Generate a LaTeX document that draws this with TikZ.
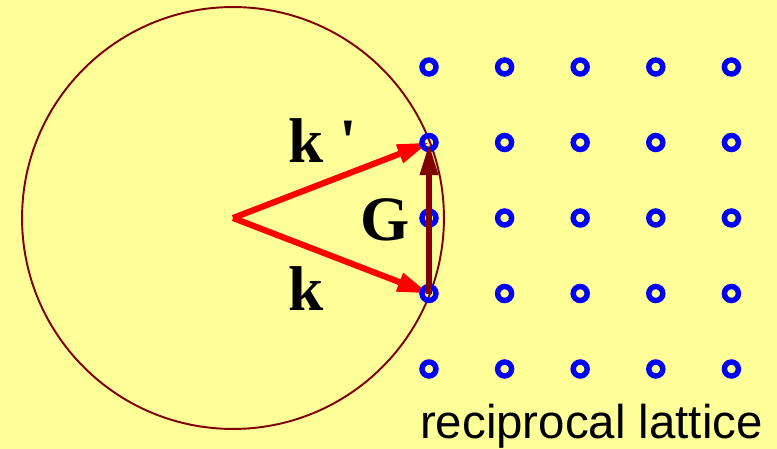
\documentclass[tikz,border=0pt]{standalone}
\usepackage{fontspec}
\usepackage{xcolor}
\usepackage{tikz}
\usetikzlibrary{arrows.meta}
\setmainfont{Liberation Serif}
\newfontfamily\lattfont{Liberation Sans}
\definecolor{paleyellow}{RGB}{255,255,153}
\definecolor{sphered}{RGB}{128,0,0}

\begin{document}
\begin{tikzpicture}[x=0.02cm, y=-0.02cm,
    latpt/.style={circle, draw=blue, line width=3.1pt, minimum size=0.28cm, inner sep=0pt},
    wavevec/.style={red, line width=3.5pt, -{Triangle[length=18pt, width=10.5pt]}},
    vecname/.style={font=\fontsize{36}{36}\selectfont\bfseries, inner sep=0pt}]
    % Background
    \fill[paleyellow] (0,0) rectangle (777,449);
    \useasboundingbox (0,0) rectangle (777,449);
    % Ewald sphere
    \coordinate (O) at (233,218);
    \draw[sphered, line width=1.1pt] (O) circle[radius=4.22cm];
    % Lattice points
    \foreach \i in {1,...,5}
        \foreach \j in {1,...,5}
            \coordinate (p\i\j) at ({429+75.6*(\i-1)}, {67+75.5*(\j-1)});
    % Incident and scattered wave vectors
    \draw[wavevec] (O) -- (p12);
    \draw[wavevec] (O) -- (p14);
    \foreach \i in {1,...,5}
        \foreach \j in {1,...,5}
            \node[latpt] (d\i\j) at (p\i\j) {};
    % G = k' - k
    \draw[sphered, line width=3.9pt, -{Triangle[length=18.5pt, width=9.5pt]}] (p14) -- (p12);
    % Labels
    \node[vecname, anchor=base west] (kp) at (288,163) {k \textquotesingle};
    \node[vecname, anchor=base west] (k) at (288,310) {k};
    \node[vecname, anchor=base] (G) at (385,240) {G};
    \node[font=\lattfont\fontsize{27}{27}\selectfont, anchor=base, inner sep=0pt] (rl) at (591.5,438) {reciprocal lattice};
\end{tikzpicture}
\end{document}
